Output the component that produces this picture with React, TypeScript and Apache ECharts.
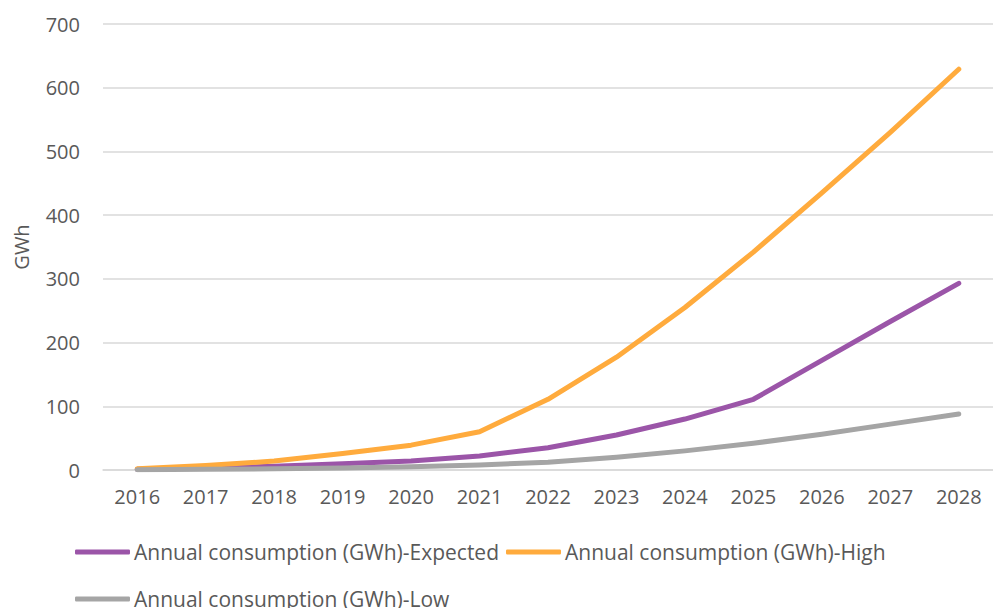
import React, { useEffect, useRef } from "react";
import * as echarts from "echarts";

const years = ["2016", "2017", "2018", "2019", "2020", "2021", "2022", "2023", "2024", "2025", "2026", "2027", "2028"];
const expected = [1, 3, 6, 10, 14, 22, 35, 55, 80, 111, 172, 233, 293];
const high = [2, 7, 14, 26, 39, 60, 111, 177, 255, 342, 435, 530, 629];
const low = [0.5, 1, 2, 3, 5, 8, 12, 20, 30, 42, 56, 72, 88];
const seriesNames = [
  "Annual consumption (GWh)-Expected",
  "Annual consumption (GWh)-High",
  "Annual consumption (GWh)-Low",
];
const colors = ["#9b55a8", "#ffab3d", "#a5a5a5"];

export default function App() {
  const ref = useRef<HTMLDivElement>(null);
  useEffect(() => {
    const chart = echarts.init(ref.current!, undefined, { renderer: "svg" });
    const font = "Open Sans";
    const mk = (name: string, data: number[], color: string) => ({
      name,
      type: "line",
      data,
      symbol: "none",
      smooth: false,
      lineStyle: { width: 5, color, cap: "round", join: "round" },
      itemStyle: { color },
    });
    chart.setOption({
      animation: false,
      textStyle: { fontFamily: font },
      grid: { left: 103, top: 24, bottom: 138, width: 900 },
      xAxis: {
        type: "category",
        data: years,
        boundaryGap: true,
        axisLine: { lineStyle: { color: "#d9d9d9", width: 1.5 } },
        axisTick: { show: false },
        axisLabel: { color: "#595959", fontSize: 20, fontFamily: font, margin: 16 },
      },
      yAxis: {
        type: "value",
        min: 0,
        max: 700,
        interval: 100,
        name: "GWh",
        nameLocation: "middle",
        nameGap: 72,
        nameTextStyle: { color: "#595959", fontSize: 20, fontFamily: font },
        axisLine: { show: false },
        axisTick: { show: false },
        axisLabel: { color: "#595959", fontSize: 20, fontFamily: font, margin: 23 },
        splitLine: { lineStyle: { color: "#d9d9d9", width: 1.5 } },
      },
      legend: {
        left: 70,
        top: 527,
        width: 880,
        itemWidth: 55,
        itemHeight: 5,
        itemGap: 7,
        icon: "roundRect",
        textStyle: { color: "#595959", fontSize: 21, fontFamily: font, lineHeight: 40, padding: [0, 0, 0, -1] },
        data: seriesNames,
      },
      series: [
        mk(seriesNames[0], expected, colors[0]),
        mk(seriesNames[1], high, colors[1]),
        mk(seriesNames[2], low, colors[2]),
      ],
    });
    return () => chart.dispose();
  }, []);
  return (
    <div
      ref={ref}
      style={{ position: "fixed", left: 0, top: 0, width: 993, height: 608, background: "#fff" }}
    />
  );
}
